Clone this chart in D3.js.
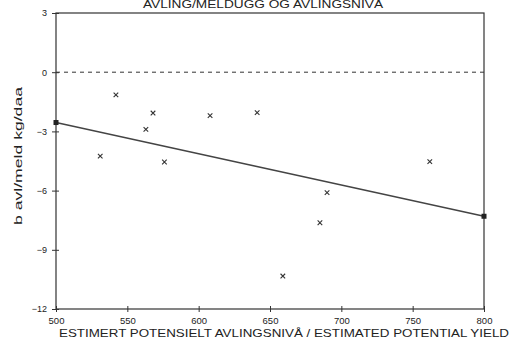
<!DOCTYPE html>
<html><head><meta charset="utf-8">
<script src="https://cdn.jsdelivr.net/npm/d3@7"></script>
<style>body{margin:0;background:#fff}svg{display:block}</style>
</head><body>
<script>
const title = "AVLING/MELDUGG OG AVLINGSNIVÅ";
const xLabel = "ESTIMERT POTENSIELT AVLINGSNIVÅ / ESTIMATED POTENTIAL YIELD";
const yLabel = "b avl/meld kg/daa";
const xTicks = [500, 550, 600, 650, 700, 750, 800];
const yTicks = [3, 0, -3, -6, -9, -12];
const pointX = [531, 542, 563, 568, 576, 608, 641, 659, 685, 690, 762];
const pointY = [-4.25, -1.15, -2.9, -2.07, -4.55, -2.2, -2.05, -10.33, -7.63, -6.1, -4.53];
const fitX = [500, 800];
const fitY = [-2.55, -7.3];

const W = 511, H = 347;
const m = {l: 56, r: 484, t: 13, b: 309};
const svg = d3.select("body").append("svg").attr("width", W).attr("height", H);
const x = d3.scaleLinear().domain([500, 800]).range([m.l, m.r]);
const y = d3.scaleLinear().domain([-12, 3]).range([m.b, m.t]);
const ink = "#333";
const font = "Liberation Sans, Arial, sans-serif";

// frame
svg.append("rect").attr("x", m.l).attr("y", m.t).attr("width", m.r - m.l).attr("height", m.b - m.t)
  .attr("fill", "none").attr("stroke", ink).attr("stroke-width", 1.2);

// zero dashed line
svg.append("line").attr("x1", x(500)).attr("x2", x(800)).attr("y1", y(0)).attr("y2", y(0))
  .attr("stroke", ink).attr("stroke-width", 1).attr("stroke-dasharray", "4,4");

// axes
const yAxis = d3.axisLeft(y).tickValues(yTicks).tickSizeInner(4).tickSizeOuter(0).tickPadding(3)
  .tickFormat(d => d < 0 ? "\u2212" + Math.abs(d) : d);
const gy = svg.append("g").attr("transform", `translate(${m.l},0)`).call(yAxis);
gy.select(".domain").remove();
gy.selectAll(".tick line").attr("x2", 3).attr("x1", -4).attr("stroke", ink);
gy.selectAll("text").attr("font-family", font).attr("font-size", 9).attr("fill", "#222").attr("dx", "-2");

const xAxis = d3.axisBottom(x).tickValues(xTicks).tickSizeOuter(0).tickPadding(3);
const gx = svg.append("g").attr("transform", `translate(0,${m.b})`).call(xAxis);
gx.select(".domain").remove();
gx.selectAll(".tick line").attr("y1", -3).attr("y2", 3).attr("stroke", ink);
gx.selectAll("text").attr("font-family", font).attr("font-size", 9.5).attr("fill", "#222").attr("dy", "0.6em");

// regression line
svg.append("path").datum(fitX.map((v, i) => [v, fitY[i]]))
  .attr("d", d3.line().x(d => x(d[0])).y(d => y(d[1])))
  .attr("fill", "none").attr("stroke", "#444").attr("stroke-width", 1.4);
svg.selectAll(".endpt").data(fitX.map((v, i) => [v, fitY[i]])).enter().append("rect")
  .attr("x", d => x(d[0]) - 2.5).attr("y", d => y(d[1]) - 2.5).attr("width", 5).attr("height", 5)
  .attr("fill", "#222");

// points as x markers
const pts = pointX.map((v, i) => [v, pointY[i]]);
const s = 2.3;
svg.selectAll(".pt").data(pts).enter().append("path")
  .attr("d", d => `M${x(d[0]) - s},${y(d[1]) - s}L${x(d[0]) + s},${y(d[1]) + s}M${x(d[0]) - s},${y(d[1]) + s}L${x(d[0]) + s},${y(d[1]) - s}`)
  .attr("stroke", "#333").attr("stroke-width", 1.1).attr("fill", "none");

// title
svg.append("text").attr("x", 263).attr("y", 8).attr("text-anchor", "middle")
  .attr("font-family", font).attr("font-size", 10).attr("fill", "#222")
  .attr("textLength", 240).attr("lengthAdjust", "spacingAndGlyphs").text(title);

// x label
svg.append("text").attr("x", 284).attr("y", 337).attr("text-anchor", "middle")
  .attr("font-family", font).attr("font-size", 11).attr("fill", "#222")
  .attr("textLength", 450).attr("lengthAdjust", "spacingAndGlyphs").text(xLabel);

// y label
svg.append("text").attr("transform", "translate(22,156) rotate(-90)").attr("text-anchor", "middle")
  .attr("font-family", font).attr("font-size", 11).attr("fill", "#222")
  .attr("textLength", 138).attr("lengthAdjust", "spacingAndGlyphs").text(yLabel);
</script>
</body></html>
